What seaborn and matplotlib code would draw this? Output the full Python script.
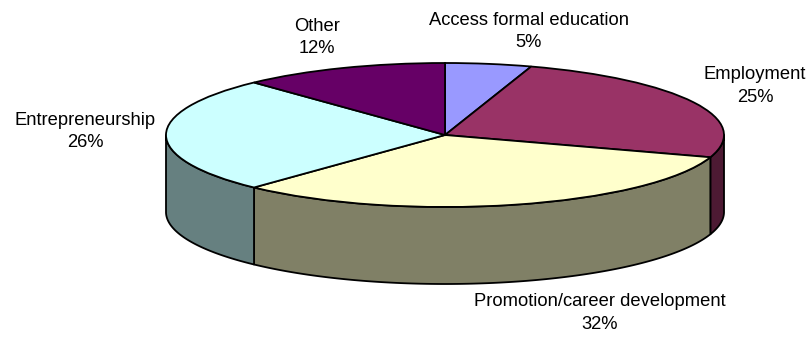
import numpy as np
import matplotlib.pyplot as plt
import matplotlib.colors as mcolors
import seaborn as sns

# data
categories = ['Access formal education', 'Employment', 'Promotion/career development',
              'Entrepreneurship', 'Other']
shares = [5, 25, 32, 26, 12]
top_colors = ['#9999FF', '#993366', '#FFFFCC', '#CCFFFF', '#660066']

sns.set_theme(style='white')
plt.rcParams['font.family'] = ['Liberation Sans', 'DejaVu Sans']

fig = plt.figure(figsize=(8.11, 3.38), dpi=100)
ax = fig.add_axes([0, 0, 1, 1])

# pixel geometry of the pie (center, half axes, wall depth)
cx, cy, rx, ry = 445, 135, 279, 72
depth = 77 / ry

# side walls: darker shade of each slice colour
side_colors = [tuple(c * 0.5 for c in mcolors.to_rgb(col)) for col in top_colors]
bounds = 90 - 360 * np.cumsum([0] + shares) / sum(shares)
for i in range(len(shares)):
    hi, lo = bounds[i], bounds[i + 1]
    a, b = max(lo, -180), min(hi, 0)
    if a >= b:
        continue
    t = np.radians(np.linspace(a, b, 200))
    xs = np.concatenate([np.cos(t), np.cos(t[::-1])])
    ys = np.concatenate([np.sin(t), np.sin(t[::-1]) - depth])
    ax.fill(xs, ys, facecolor=side_colors[i], edgecolor='black', lw=1.3, joinstyle='round')

# top face
ax.pie(shares, colors=top_colors, startangle=90, counterclock=False, radius=1,
       wedgeprops=dict(edgecolor='black', linewidth=1.3))

ax.set_aspect('auto')
ax.set_xlim(-cx / rx, (811 - cx) / rx)
ax.set_ylim(-(338 - cy) / ry, cy / ry)
ax.axis('off')

# labels (pixel positions of label centres)
label_px = [(529, 31.5), (755, 86), (600, 313), (85, 131.5), (317, 37.5)]
for name, val, (px, py) in zip(categories, shares, label_px):
    ax.text((px - cx) / rx, (cy - py) / ry, f'{name}\n{val}%', ha='center', va='center',
            multialignment='center', fontsize=13.2, color='black', linespacing=1.4)

fig.savefig('out.png', dpi=100)
